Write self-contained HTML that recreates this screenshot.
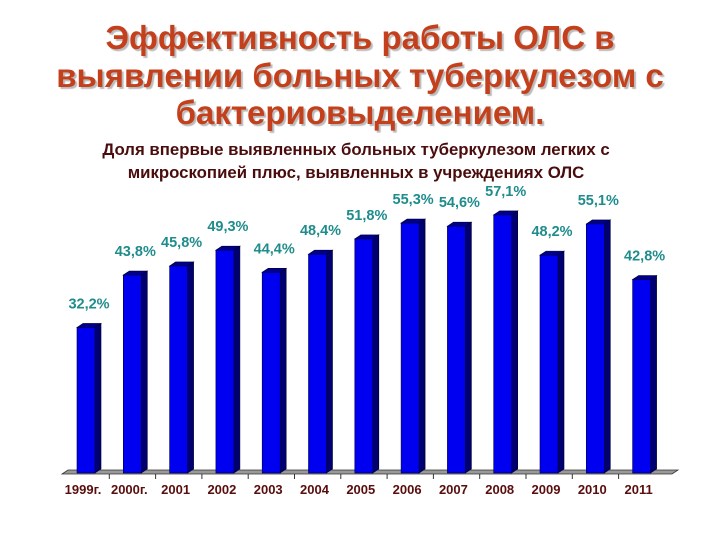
<!DOCTYPE html>
<html><head><meta charset="utf-8"><style>
body{margin:0;width:720px;height:540px;background:#fff;overflow:hidden;font-family:"Liberation Sans","DejaVu Sans",sans-serif}
.t{position:absolute;left:0;width:720px;text-align:center;font-weight:bold;color:#c4401c;font-size:33px;text-shadow:2px 2px 1px #bbb;line-height:37.5px}
.s{position:absolute;left:0;width:720px;text-align:center;font-weight:bold;color:#4a0c0c;font-size:16.8px;line-height:23px}
</style></head><body>
<div class="t" style="top:19px">Эффективность работы ОЛС в<br>выявлении больных туберкулезом с<br>бактериовыделением.</div>
<div class="s" style="top:138px;left:-4px">Доля впервые выявленных больных туберкулезом легких с<br>микроскопией плюс, выявленных в учреждениях ОЛС</div>
<svg id="chart" width="720" height="540" style="position:absolute;left:0;top:0"></svg>
<script>
const categories=["1999г.","2000г.","2001","2002","2003","2004","2005","2006","2007","2008","2009","2010","2011"];
const values=[32.2,43.8,45.8,49.3,44.4,48.4,51.8,55.3,54.6,57.1,48.2,55.1,42.8];
const valueLabels=["32,2%","43,8%","45,8%","49,3%","44,4%","48,4%","51,8%","55,3%","54,6%","57,1%","48,2%","55,1%","42,8%"];
const NS="http://www.w3.org/2000/svg";
const svg=document.getElementById("chart");
const base=473,scale=4.52,x0=77,pitch=46.3,bw=18,dx=6,dy=4;
function xAt(i){return x0+i*pitch;}
function yAt(v){return base-v*scale;}
function mk(tag,attrs){const e=document.createElementNS(NS,tag);for(const k in attrs)e.setAttribute(k,attrs[k]);svg.appendChild(e);return e;}
const floor=mk("polygon",{points:`62,474 ${672},474 ${678},470 ${68},470`,fill:"#999",stroke:"#333","stroke-width":"0.8"});


for(let i=1;i<categories.length;i++){
  const tk=mk("line",{x1:xAt(i)-14,y1:474,x2:xAt(i)-14,y2:479,stroke:"#333","stroke-width":"1"});
  
  
}
values.forEach((v,i)=>{
  const x=xAt(i),y=yAt(v);
  const g=mk("g",{});
  
  
  const side=document.createElementNS(NS,"polygon");
  side.setAttribute("points",`${x+bw},${y} ${x+bw+dx},${y-dy} ${x+bw+dx},${base-dy} ${x+bw},${base}`);
  side.setAttribute("fill","#000070");side.setAttribute("stroke","#000030");side.setAttribute("stroke-width","0.6");
  g.appendChild(side);
  const top=document.createElementNS(NS,"polygon");
  top.setAttribute("points",`${x},${y} ${x+dx},${y-dy} ${x+bw+dx},${y-dy} ${x+bw},${y}`);
  top.setAttribute("fill","#00008c");top.setAttribute("stroke","#000030");top.setAttribute("stroke-width","0.6");
  g.appendChild(top);
  const fr=document.createElementNS(NS,"rect");
  fr.setAttribute("x",x);fr.setAttribute("y",y);fr.setAttribute("width",bw);fr.setAttribute("height",base-y);
  fr.setAttribute("fill","#0000f0");fr.setAttribute("stroke","#000040");fr.setAttribute("stroke-width","0.6");
  g.appendChild(fr);
  const t=mk("text",{x:x+bw/2+3,y:y-19,"text-anchor":"middle","font-size":"14.5","font-weight":"bold",fill:"#1f8c8c","font-family":"Liberation Sans, sans-serif"});
  t.textContent=valueLabels[i];
  
  
  const c=mk("text",{x:x+bw/2-3,y:494,"text-anchor":"middle","font-size":"13","font-weight":"bold",fill:"#5a0d0d","font-family":"Liberation Sans, sans-serif"});
  c.textContent=categories[i];
  
  
});
</script>
</body></html>
